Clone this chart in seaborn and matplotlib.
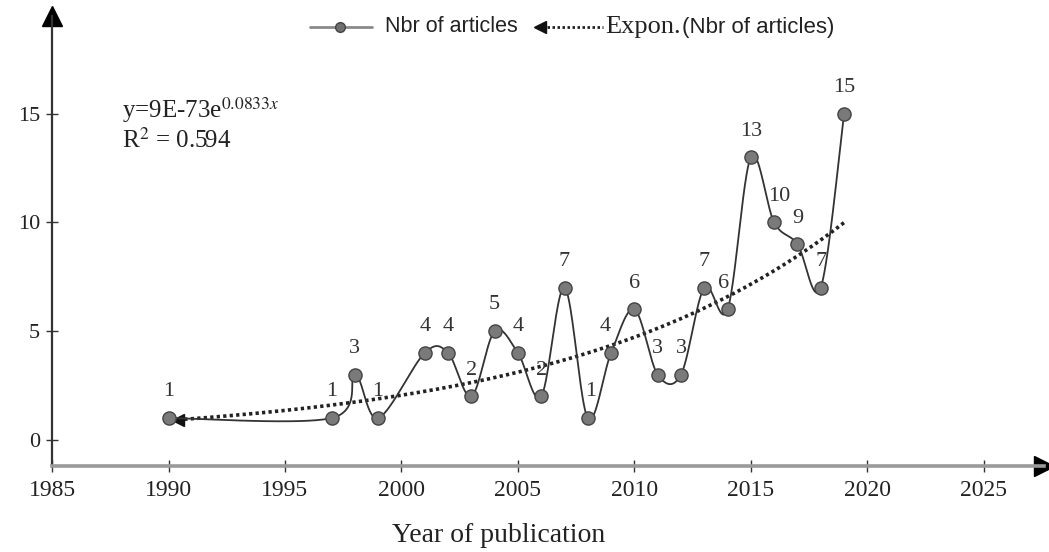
import numpy as np
import pandas as pd
import matplotlib
matplotlib.use("Agg")
import matplotlib.pyplot as plt
from matplotlib.lines import Line2D
import seaborn as sns

# Number of articles per publication year
years = [1990, 1997, 1998, 1999, 2001, 2002, 2003, 2004, 2005, 2006, 2007, 2008,
         2009, 2010, 2011, 2012, 2013, 2014, 2015, 2016, 2017, 2018, 2019]
articles = [1, 1, 3, 1, 4, 4, 2, 5, 4, 2, 7, 1, 4, 6, 3, 3, 7, 6, 13, 10, 9, 7, 15]

x_ticks = [1985, 1990, 1995, 2000, 2005, 2010, 2015, 2020, 2025]
y_ticks = [0, 5, 10, 15]
series_label = "Nbr of articles"
trend_prefix = "Expon."
trend_label = "(Nbr of articles)"
equation = r"y=9E-73e$^{0.0833x}$"
r_squared = r"R$^{2}$ = 0.594"
x_title = "Year of publication"

df = pd.DataFrame({"year": years, "articles": articles})

sns.set_theme(style="white")
plt.rcParams["font.family"] = ["Liberation Serif", "DejaVu Serif"]
plt.rcParams["mathtext.fontset"] = "stix"

fig = plt.figure(figsize=(10.49, 5.52), dpi=100)
ax = fig.add_axes([0.0496, 0.156, 0.946, 0.815])


def smooth_path(xs, ys, n=40):
    """Catmull-Rom style Bezier smoothing through the data points."""
    P = np.column_stack([xs, ys]).astype(float)
    out = []
    for i in range(len(P) - 1):
        p0 = P[i - 1] if i > 0 else P[i]
        p1, p2 = P[i], P[i + 1]
        p3 = P[i + 2] if i + 2 < len(P) else P[i + 1]
        c1 = p1 + (p2 - p0) / 6.0
        c2 = p2 - (p3 - p1) / 6.0
        t = np.linspace(0, 1, n)[:, None]
        seg = ((1 - t) ** 3) * p1 + 3 * ((1 - t) ** 2) * t * c1 + 3 * (1 - t) * t ** 2 * c2 + t ** 3 * p2
        out.append(seg if i == 0 else seg[1:])
    out = np.vstack(out)
    return out[:, 0], out[:, 1]


# Exponential trend (least squares on log values)
b, ln_a = np.polyfit(df["year"], np.log(df["articles"]), 1)
tx = np.linspace(min(years) + 0.4, max(years), 200)
ty = np.exp(ln_a + b * tx)
ax.plot(tx, ty, color="#222222", lw=2.6, linestyle=(0, (0.9, 0.9)), zorder=2)
ax.plot([tx[0]], [ty[0]], marker="<", color="#111111", ms=8, zorder=3)

# Smoothed series line and markers
sx, sy = smooth_path(df["year"], df["articles"])
ax.plot(sx, sy, color="#333333", lw=1.3, zorder=3)
sns.scatterplot(data=df, x="year", y="articles", ax=ax, s=90, color="#7a7a7a",
                edgecolor="#444444", linewidth=1.0, zorder=4, legend=False)

# Value labels
dx = {2009: -4, 2014: -3, 2016: 4, 2008: 2}
for xv, yv in zip(years, articles):
    ax.annotate(str(yv), (xv, yv), xytext=(dx.get(xv, 0), 12), textcoords="offset points",
                ha="center", va="bottom", fontsize=16, color="#333333", zorder=5)

ax.set_xlim(1985, 2027.6)
ax.set_ylim(-1.2, 19.5)
ax.set_xticks(x_ticks)
ax.set_yticks(y_ticks)
ax.set_xlabel("")
ax.set_ylabel("")
ax.tick_params(axis="both", colors="#333333", direction="inout",
               length=9, width=1.0, bottom=True, left=True)
ax.tick_params(axis="x", labelsize=17, pad=6)
ax.tick_params(axis="y", labelsize=16, pad=4)
for tl in ax.get_xticklabels() + ax.get_yticklabels():
    tl.set_color("#222222")

ax.text(0.45, -0.155, x_title, transform=ax.transAxes, fontsize=20, color="#222222",
        ha="center", va="center")

for side in ["top", "right"]:
    ax.spines[side].set_visible(False)
ax.spines["bottom"].set_color("#9a9a9a")
ax.spines["bottom"].set_linewidth(2.6)
ax.spines["left"].set_color("#333333")
ax.spines["left"].set_linewidth(1.6)

# Axis arrowheads
ax.plot(1.0, 0.0, marker=">", color="black", ms=15, transform=ax.transAxes, clip_on=False)
ax.plot(0.0, 1.0, marker="^", color="black", ms=15, transform=ax.transAxes, clip_on=False)

# Trend equation
ax.text(0.0705, 0.774, equation, transform=ax.transAxes, fontsize=18, color="#222222",
        va="baseline")
ax.text(0.0705, 0.707, r_squared, transform=ax.transAxes, fontsize=18, color="#222222",
        va="baseline")

# Legend row at the top
ly = 1 - 27 / 552
fig.add_artist(Line2D([310 / 1049, 372 / 1049], [ly, ly], color="#8a8a8a", lw=2,
                      transform=fig.transFigure))
fig.add_artist(Line2D([340 / 1049], [ly], marker="o", ms=7, color="#6f6f6f",
                      markeredgecolor="#444444", transform=fig.transFigure))
fig.text(385 / 1049, ly, series_label, family=["Liberation Sans", "DejaVu Sans"],
         fontsize=15.5, va="center", ha="left", color="#222222")
fig.add_artist(Line2D([542 / 1049, 603 / 1049], [ly, ly], color="#222222", lw=2,
                      linestyle=(0, (0.9, 0.9)), transform=fig.transFigure))
fig.add_artist(Line2D([540 / 1049], [ly], marker="<", ms=8, color="#111111",
                      transform=fig.transFigure))
t1 = fig.text(605 / 1049, ly, trend_prefix, fontsize=19, va="center", ha="left",
              color="#222222")
fig.canvas.draw()
bb = t1.get_window_extent()
fig.text(bb.x1 / fig.bbox.width + 0.001, ly, trend_label,
         family=["Liberation Sans", "DejaVu Sans"], fontsize=16, va="center",
         ha="left", color="#222222")

fig.savefig("out.png", dpi=100)
